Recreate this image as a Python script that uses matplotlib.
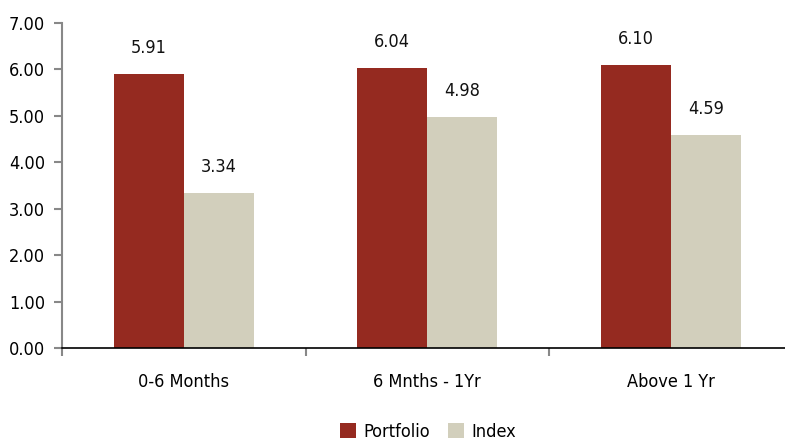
import matplotlib
matplotlib.use("Agg")
import matplotlib.pyplot as plt
import numpy as np

categories = ["0-6 Months", "6 Mnths - 1Yr", "Above 1 Yr"]
portfolio = [5.91, 6.04, 6.10]
index_vals = [3.34, 4.98, 4.59]
yticks = [0, 1, 2, 3, 4, 5, 6, 7]

RED = "#952A20"
BEIGE = "#D2CFBC"

plt.rcParams['font.family'] = ['DejaVu Sans']
plt.rcParams['font.stretch'] = 'condensed'

fig = plt.figure(figsize=(7.85, 4.47), dpi=100)
ax = fig.add_axes([62/785, 99/447, 730.5/785, 325/447])

x = np.arange(len(categories))
w = 0.2875
b1 = ax.bar(x - w/2, portfolio, w, color=RED, label="Portfolio")
b2 = ax.bar(x + w/2, index_vals, w, color=BEIGE, label="Index")

for bars, vals in ((b1, portfolio), (b2, index_vals)):
    for r, v in zip(bars, vals):
        ax.annotate(f"{v:.2f}", (r.get_x() + r.get_width()/2, v),
                    xytext=(0, 12), textcoords="offset points",
                    ha="center", va="bottom", fontsize=13, color="#111111")

ax.set_xlim(-0.5, len(categories) - 0.5)
ax.set_ylim(0, 7)
ax.set_yticks(yticks)
ax.set_yticklabels([f"{t:.2f}" for t in yticks], fontsize=13)
ax.set_xticks(np.arange(len(categories) + 1) - 0.5)
ax.set_xticklabels([])
ax.set_xticks(x, minor=True)
ax.set_xticklabels(categories, minor=True, fontsize=13)
ax.tick_params(axis='x', which='minor', length=0, pad=18)
ax.tick_params(axis='x', which='major', length=6, color="#888888", width=1.5)
ax.tick_params(axis='y', length=6, color="#888888", width=1.5, pad=6)

for s in ("top", "right"):
    ax.spines[s].set_visible(False)
ax.spines['left'].set_color("#888888")
ax.spines['left'].set_linewidth(1.5)
ax.spines['bottom'].set_color("black")
ax.spines['bottom'].set_linewidth(1.2)

fig.legend(handles=[b1, b2], loc="lower center", bbox_to_anchor=(0.545, -0.022),
           ncol=2, frameon=False, fontsize=13, handlelength=0.9, handleheight=0.9,
           handletextpad=0.4, columnspacing=1.0)

fig.savefig("out.png", dpi=100)
